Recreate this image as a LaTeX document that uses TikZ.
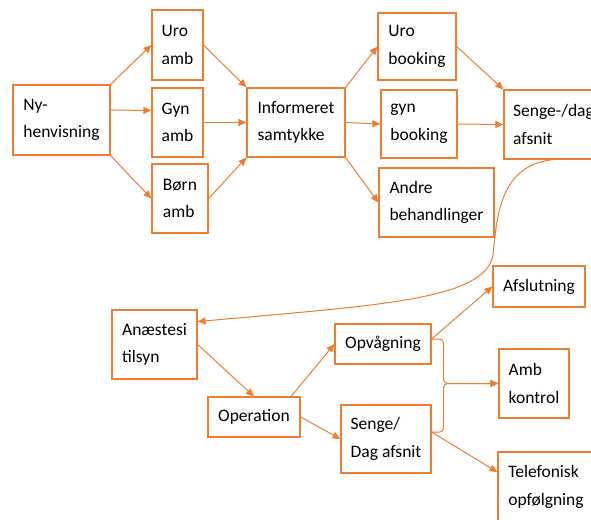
\documentclass[tikz,border=0pt]{standalone}
\usepackage{fontspec}
\setmainfont{Carlito}
\usepackage{tikz}
\usetikzlibrary{arrows.meta,calc}
\definecolor{boksorange}{HTML}{ED7D31}

\begin{document}
\begin{tikzpicture}[x=1pt,y=-1pt,
		boks/.style={draw=boksorange, line width=1.2pt, align=left, inner sep=0pt, font=\fontsize{17.5}{27.5}\selectfont},
		pil/.style={draw=boksorange, line width=1pt, -{Triangle[length=8pt,width=7pt]}}]
		\clip (0,0) rectangle (591,519);

		\node[boks, minimum width=97pt, minimum height=70pt] (ny) at (61.5,120) {Ny-\\henvisning};

		\node[boks, minimum width=51pt, minimum height=70pt] (uroamb) at (177.5,45) {Uro\\amb};
		\node[boks, minimum width=51pt, minimum height=69pt] (gynamb) at (177.5,122.5) {Gyn\\amb};
		\node[boks, minimum width=56pt, minimum height=69pt] (bornamb) at (180,198.5) {Børn\\amb};

		\node[boks, minimum width=98pt, minimum height=69pt] (inf) at (296,122.5) {Informeret\\samtykke};

		\node[boks, minimum width=78pt, minimum height=67pt] (urobook) at (417,46.5) {Uro\\booking};
		\node[boks, minimum width=76pt, minimum height=68pt] (gynbook) at (419,124) {gyn\\booking};
		\node[boks, minimum width=115pt, minimum height=69pt] (andre) at (436.5,202.5) {Andre\\behandlinger};

		\node[boks, minimum width=99pt, minimum height=69pt] (senge) at (553.5,124.5) {Senge-/dag\\afsnit};

		\node[boks, minimum width=85pt, minimum height=69pt] (anae) at (154.5,344.5) {Anæstesi\\tilsyn};
		\node[boks, minimum width=92pt, minimum height=40pt] (oper) at (254,417) {Operation};
		\node[boks, minimum width=96pt, minimum height=40pt] (opv) at (383,344) {Opvågning};
		\node[boks, minimum width=90pt, minimum height=68pt] (sengedag) at (386,439) {Senge/\\Dag afsnit};

		\node[boks, minimum width=92pt, minimum height=41pt] (afsl) at (539,286.5) {Afslutning};
		\node[boks, minimum width=70pt, minimum height=69pt] (ambk) at (534,383.5) {Amb\\kontrol};
		\node[boks, minimum width=96pt, minimum height=70pt] (tlf) at (546,487) {Telefonisk\\opfølgning};

		\draw[pil] (ny.north east) -- (uroamb.west);
		\draw[pil] ($(ny.east)+(0,-10)$) -- ($(gynamb.west)+(0,-12)$);
		\draw[pil] (ny.south east) -- (bornamb.west);

		\draw[pil] (uroamb.east) -- (inf.north west);
		\draw[pil] (gynamb.east) -- (inf.west);
		\draw[pil] (bornamb.east) -- (inf.south west);

		\draw[pil] (inf.north east) -- (urobook.west);
		\draw[pil] (inf.east) -- (gynbook.west);
		\draw[pil] (inf.south east) -- (andre.west);

		\draw[pil] (urobook.east) -- (senge.north west);
		\draw[pil] (gynbook.east) -- (senge.west);

		\draw[pil] (senge.south) .. controls (500,165) and (497,215) .. (493,255) .. controls (485,300) and (380,305) .. (anae.28);

		\draw[pil] (anae.east) -- (oper.north);
		\draw[pil] (oper.29) -- (opv.west);
		\draw[pil] (oper.east) -- (sengedag.west);

		\draw[pil] ($(opv.east)+(0,-5)$) -- (afsl.west);
		\draw[pil, rounded corners=4pt] ($(opv.east)+(0,-5)$) -- ++(12,0) |- (ambk.west);
		\draw[pil, rounded corners=4pt] ($(sengedag.east)+(0,-7)$) -- ++(12,0) |- (ambk.west);
		\draw[pil] ($(sengedag.east)+(0,-7)$) -- (tlf.163);
	\end{tikzpicture}
\end{document}
